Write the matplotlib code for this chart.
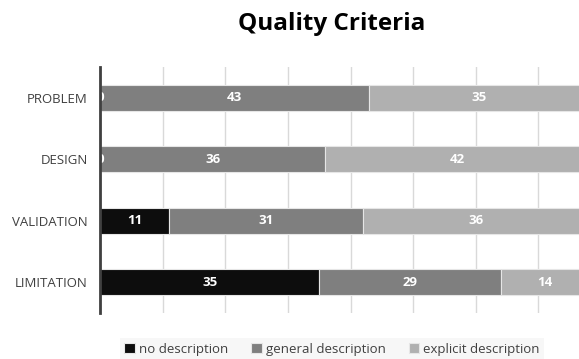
import numpy as np
import matplotlib.pyplot as plt

plt.rcParams['font.family'] = ['Open Sans', 'DejaVu Sans']

# data
categories = ["PROBLEM", "DESIGN", "VALIDATION", "LIMITATION"]
series_names = ["no description", "general description", "explicit description"]
no_desc = [0, 0, 11, 35]
general_desc = [43, 36, 31, 29]
explicit_desc = [35, 42, 36, 14]
colors = ["#0d0d0d", "#7f7f7f", "#b0b0b0"]

fig = plt.figure(figsize=(5.79, 3.59), dpi=100)
# axes runs a bit past the right edge, like the cropped original
ax = fig.add_axes([100 / 579, 1 - 313 / 359, 501 / 579, 246 / 359])

y = np.arange(len(categories))
left = np.zeros(len(categories))
for name, vals, col in zip(series_names, [no_desc, general_desc, explicit_desc], colors):
    vals = np.array(vals)
    ax.barh(y, vals, left=left, height=0.42, color=col,
            edgecolor="#e6e6e6", linewidth=0.8, label=name, zorder=2)
    for yi, l, v in zip(y, left, vals):
        ax.text(l + v / 2, yi, str(v), ha="center", va="center", color="white",
                fontsize=9.5, fontweight="bold", zorder=3)
    left = left + vals

ax.set_xlim(0, 80)
ax.set_ylim(3.5, -0.5)
ax.set_yticks(y)
ax.set_yticklabels(categories, fontsize=9.5, color="#404040")
ax.set_xticks(np.arange(0, 81, 10))
ax.xaxis.set_ticklabels([])
ax.tick_params(axis="x", length=0)
ax.tick_params(axis="y", length=0, pad=9)
ax.grid(axis="x", color="#d9d9d9", linewidth=1, zorder=0)
for s in ["top", "right", "bottom"]:
    ax.spines[s].set_visible(False)
ax.spines["left"].set_color("#404040")
ax.spines["left"].set_linewidth(2)
ax.spines["left"].set_zorder(4)

fig.text(332 / 579, 1 - 24 / 359, "Quality Criteria", ha="center", va="center",
         fontsize=17.5, fontweight="bold")

leg = fig.legend(loc="center", bbox_to_anchor=(332 / 579, 1 - 349 / 359), ncol=3,
                 fontsize=9.5, frameon=True, fancybox=False, handlelength=0.8,
                 handleheight=0.8, handletextpad=0.3, columnspacing=1.75,
                 borderpad=0.35)
leg.get_frame().set_facecolor("#f5f5f5")
leg.get_frame().set_edgecolor("none")
for t in leg.get_texts():
    t.set_color("#404040")

fig.savefig("out.png", dpi=100)
